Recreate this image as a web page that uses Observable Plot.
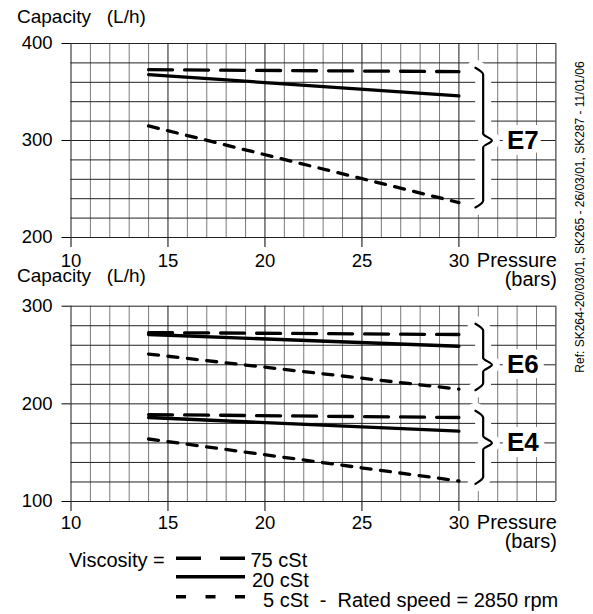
<!DOCTYPE html>
<html>
<head>
<meta charset="utf-8">
<script src="https://cdn.jsdelivr.net/npm/d3@7"></script>
<script src="https://cdn.jsdelivr.net/npm/@observablehq/plot@0.6"></script>
<style>
  html, body { margin: 0; padding: 0; background: #fff; }
  #page { position: relative; width: 593px; height: 614px; overflow: hidden; font-family: "Liberation Sans", Arial, sans-serif; color: #000; }
  .t { position: absolute; white-space: pre; line-height: 1; font-size: 20px; }
  .plotbox { position: absolute; left: 0; }
</style>
</head>
<body>
<div id="page">
  <div id="top" class="plotbox" style="top:0px"></div>
  <div id="bot" class="plotbox" style="top:268px"></div>
  <div class="t" style="left:188px;top:-29px;font-size:28px;font-weight:bold;">Pump capacity</div>
  <div class="t" style="left:17px;top:6.5px;font-size:19px;">Capacity   (L/h)</div>
  <div class="t" style="left:17px;top:268px;font-size:19px;line-height:16px;">Capacity   (L/h)</div>
  <div id="legend"></div>
  <div class="t" style="left:580px;top:217px;font-size:12px;transform:translate(-50%,-50%) rotate(-90deg);">Ref: SK264-20/03/01, SK265 - 26/03/01, SK287 - 11/01/06</div>
</div>
<script>
// ---- data ----
const pressure = [14, 30];                 // bars
const xTicks = [10, 15, 20, 25, 30];
const topYTicks = [200, 300, 400];
const botYTicks = [100, 200, 300];
const viscosity = ["75 cSt", "20 cSt", "5 cSt"];

// capacities (L/h) at 14 and 30 bars
const e7_75cSt = [373, 371];
const e7_20cSt = [368, 346];
const e7_5cSt  = [315, 236];
const e6_75cSt = [273, 271];
const e6_20cSt = [271, 259];
const e6_5cSt  = [251, 215];
const e4_75cSt = [189, 186];
const e4_20cSt = [186, 172];
const e4_5cSt  = [164, 121];

// braces: pump model labels and capacity ranges they span
const topBraceLabels = ["E7"];
const topBraceFrom = [375];
const topBraceTo = [231];
const topBraceTip = [300];
const botBraceLabels = ["E6", "E4"];
const botBraceFrom = [282, 193];
const botBraceTo = [214, 118];
const botBraceTip = [240, 160];

const xAxisTitle = "Pressure\n(bars)";
const legendText = ["75 cSt", "20 cSt", "5 cSt  -  Rated speed = 2850 rpm"];

// ---- styles ----
const dash = {"75 cSt": "24 12", "20 cSt": null, "5 cSt": "10 9.5"};
const FONT = '"Liberation Sans", Arial, sans-serif';

function seriesRows(group, v75, v20, v5) {
  const out = [];
  [[viscosity[0], v75], [viscosity[1], v20], [viscosity[2], v5]].forEach(([v, vals]) =>
    pressure.forEach((p, i) => out.push({group, visc: v, p, c: vals[i]})));
  return out;
}

function braceRows(labels, from, to, tip) {
  const x0 = 30.85, xv = 31.25, xt = 31.7, h = 7;
  return labels.flatMap((label, i) => [
    [x0, from[i]], [xv, from[i] - h], [xv, tip[i] + h], [xt, tip[i]],
    [xv, tip[i] - h], [xv, to[i] + h], [x0, to[i]]
  ].map(([x, y]) => ({label, x, y})));
}

function makeChart({yDomain, yTicks, height, marginTop, marginBottom, rows, brLabels, brFrom, brTo, brTip, pad}) {
  const br = braceRows(brLabels, brFrom, brTo, brTip);
  const lbl = brLabels.map((label, i) => ({label, y: brTip[i]}));
  const gridY = d3.range(yDomain[0], yDomain[1] + 1, 20);
  const xAll = d3.range(10, 36);
  const xMajor = xAll.filter(d => d % 5 === 0);
  const xMinor = xAll.filter(d => d % 5 !== 0);
  const lblX = () => 33.3;
  return Plot.plot({
    width: 593, height, marginLeft: 70.5, marginRight: 37.6, marginTop, marginBottom,
    style: {background: "transparent", fontFamily: FONT, fontSize: "18.5px", color: "#000", overflow: "visible"},
    x: {domain: [10, 35], ticks: xTicks, tickSize: 10, tickPadding: pad, label: null},
    y: {domain: yDomain, ticks: yTicks, tickSize: 9, tickPadding: 9.5, label: null},
    marks: [
      Plot.ruleX(xMinor, {stroke: "#7a7a7a", strokeWidth: 1}),
      Plot.ruleY(gridY, {stroke: "#222", strokeWidth: 1}),
      Plot.ruleX(xMajor, {stroke: "#1a1a1a", strokeWidth: 1}),
      Plot.line(br, {x: "x", y: "y", z: "label", curve: "monotone-y", stroke: "white", strokeWidth: 16}),
      Plot.line(br, {x: "x", y: "y", z: "label", curve: "monotone-y", stroke: "black", strokeWidth: 2.2}),
      Plot.text(lbl, {x: lblX, y: "y", text: "label", fontSize: 26, fontWeight: "bold", fill: "white", stroke: "white", strokeWidth: 12, strokeLinejoin: "round"}),
      Plot.text(lbl, {x: lblX, y: "y", text: "label", fontSize: 26, fontWeight: "bold", fill: "black"}),
      ...viscosity.map(v => Plot.line(rows.filter(r => r.visc === v), {
        x: "p", y: "c", z: "group", stroke: "black", strokeWidth: 3.3,
        strokeDasharray: dash[v] || undefined
      })),
      Plot.text([xAxisTitle], {x: () => 35, y: () => yDomain[0], text: d => d, dx: 1, dy: 10 + pad, lineAnchor: "top", textAnchor: "end", fontSize: 20, lineHeight: 0.95})
    ]
  });
}

const topRows = seriesRows("E7", e7_75cSt, e7_20cSt, e7_5cSt);
const botRows = [...seriesRows("E6", e6_75cSt, e6_20cSt, e6_5cSt), ...seriesRows("E4", e4_75cSt, e4_20cSt, e4_5cSt)];

document.getElementById("top").append(makeChart({
  yDomain: [200, 400], yTicks: topYTicks, height: 290, marginTop: 43, marginBottom: 53,
  rows: topRows, brLabels: topBraceLabels, brFrom: topBraceFrom, brTo: topBraceTo, brTip: topBraceTip, pad: 6
}));
document.getElementById("bot").append(makeChart({
  yDomain: [100, 300], yTicks: botYTicks, height: 290, marginTop: 37.7, marginBottom: 57,
  rows: botRows, brLabels: botBraceLabels, brFrom: botBraceFrom, brTo: botBraceTo, brTip: botBraceTip, pad: 4
}));

// ---- legend ----
const legend = document.getElementById("legend");
const swatchDash = {"75 cSt": "25 19", "20 cSt": "", "5 cSt": "10 19.5"};
const legendY = [558.3, 576.7, 596.7];
const legendTextTop = [550, 570, 590];
const legendTextX = [250.5, 252, 263];
let html = `<div class="t" style="left:69px;top:550px;">Viscosity =</div>`;
html += `<svg style="position:absolute;left:0;top:0;overflow:visible" width="593" height="614">`;
viscosity.forEach((v, i) => {
  html += `<line x1="176" x2="245" y1="${legendY[i]}" y2="${legendY[i]}" stroke="black" stroke-width="3.6"${swatchDash[v] ? ` stroke-dasharray="${swatchDash[v]}"` : ""}/>`;
});
html += `</svg>`;
legendText.forEach((s, i) => {
  html += `<div class="t" style="left:${legendTextX[i]}px;top:${legendTextTop[i]}px;">${s}</div>`;
});
legend.innerHTML = html;
</script>
</body>
</html>
